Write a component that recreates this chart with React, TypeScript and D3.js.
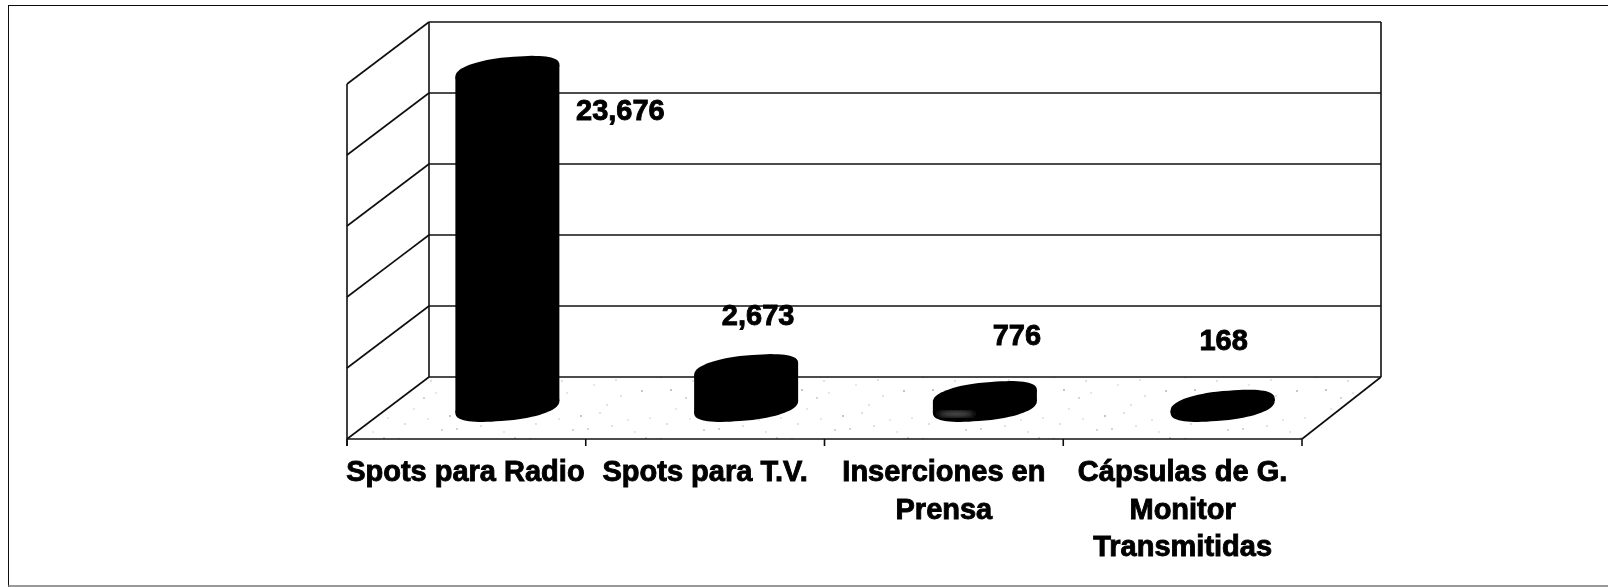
// Bar chart in fake 3D (scanned look): cylinders on a floor with a left wall
import React from 'react';
import * as d3 from 'd3';

const categories = ['Spots para Radio', 'Spots para T.V.', 'Inserciones en Prensa', 'Cápsulas de G. Monitor Transmitidas'];
const values = [23676, 2673, 776, 168];
const valueLabels = ['23,676', '2,673', '776', '168'];
const categoryLines = [['Spots para Radio'], ['Spots para T.V.'], ['Inserciones en', 'Prensa'], ['Cápsulas de G.', 'Monitor', 'Transmitidas']];
const yTicks = [0, 5000, 10000, 15000, 20000, 25000];

const W = 1608;
const H = 587;
const INK = '#111';
const FONT = '"Liberation Sans", Arial, sans-serif';

// front plane of the plot and the shift to the back wall
const frontLeft = 347;
const frontRight = 1302;
const frontBase = 439;
const depthX = 82;
const depthY = -62;
const backBase = frontBase + depthY;

const x = d3.scaleBand<string>().domain(categories).range([frontLeft, frontRight]);
const y = d3.scaleLinear().domain([0, 25000]).range([0, -355]);

// where each value label sits relative to the top of its bar
const labelDx = [113, 12, 32, 0];
const labelY = [120, 325, 345, 350];
const categoryDx = [-1, 0, 0, 0];

// irregular floor speckle, tile-relative
const speckX = [6, 21, 38, 31, 12, 43, 57, 70, 83, 64, 92, 104, 118, 111, 76, 49, 97, 126, 16, 35, 88, 122];
const speckY = [5, 37, 9, 26, 52, 21, 44, 13, 33, 57, 8, 48, 19, 60, 41, 58, 24, 46, 18, 47, 54, 4];

const RX = 52;
const RY = 13.5;
const SKEW = 6;
const POWER = 2 / 2.3; // slightly squarer than an ellipse, the shoulders are full
const ring = d3.range(0, 2 * Math.PI, Math.PI / 36);
const line = d3.line<[number, number]>().curve(d3.curveLinearClosed);
const spow = (v: number) => Math.sign(v) * Math.pow(Math.abs(v), POWER);

const ellipse = (cx: number, cy: number) =>
  line(ring.map((t) => [cx + RX * spow(Math.cos(t)), cy + RY * spow(Math.sin(t)) - SKEW * Math.cos(t)] as [number, number]));

const Cylinder = ({ cx, value }: { cx: number; value: number }) => {
  const base = (frontBase + backBase) / 2 - 1;
  const top = base + y(value);
  const side = line([
    [cx - RX, top + SKEW],
    [cx + RX, top - SKEW],
    [cx + RX, base - SKEW],
    [cx - RX, base + SKEW],
  ]);
  return (
    <g fill="#000">
      <path d={side || ''} />
      <path d={ellipse(cx, top) || ''} />
      <path d={ellipse(cx, base) || ''} />
    </g>
  );
};

const App = () => {
  const floor = line([
    [frontLeft, frontBase],
    [frontRight, frontBase],
    [frontRight + depthX, backBase],
    [frontLeft + depthX, backBase],
  ]);
  const xTicks = [...categories.map((c) => x(c) as number), frontRight];
  const backRight = frontRight + depthX - 3;

  return (
    <svg width={W} height={H} style={{ position: 'absolute', left: 0, top: 0, background: '#fff' }}>
      <defs>
        <pattern id="speckle" width="131" height="62" patternUnits="userSpaceOnUse">
          {speckX.map((sx, i) => (
            <circle key={i} cx={sx} cy={speckY[i]} r={i % 3 === 0 ? 0.9 : 0.7} fill={i % 2 === 0 ? '#aaa' : '#c0c0c0'} />
          ))}
        </pattern>
        <filter id="smudge">
          <feGaussianBlur stdDeviation="2.5" />
        </filter>
        <filter id="scan" x="0" y="0" width="100%" height="100%">
          <feGaussianBlur stdDeviation="0.5" />
        </filter>
      </defs>

      <g filter="url(#scan)">
        {/* scan frame */}
        <path d={`M${W},5H8V${H}`} fill="none" stroke={INK} strokeWidth={2} />
        <line x1={8} x2={W} y1={586} y2={586} stroke="#777" strokeWidth={1.4} />

        <path d={floor || ''} fill="url(#speckle)" />

        {/* gridlines on the back and left walls */}
        {yTicks.map((t) => (
          <g key={t} stroke={INK} strokeWidth={1.6}>
            <line x1={frontLeft} y1={frontBase + y(t)} x2={frontLeft + depthX} y2={backBase + y(t)} />
            <line x1={frontLeft + depthX} y1={backBase + y(t)} x2={backRight} y2={backBase + y(t)} />
          </g>
        ))}
        <g stroke={INK} strokeWidth={1.6}>
          <line x1={frontLeft} y1={frontBase + y(25000)} x2={frontLeft} y2={frontBase + 7} />
          <line x1={frontLeft + depthX} y1={backBase + y(25000)} x2={frontLeft + depthX} y2={backBase} />
          <line x1={backRight} y1={backBase + y(25000)} x2={backRight} y2={backBase} />
          <line x1={frontRight} y1={frontBase} x2={backRight} y2={backBase} />
          <line x1={frontLeft} y1={frontBase} x2={frontRight} y2={frontBase} />
          {xTicks.map((t) => (
            <line key={t} x1={t} x2={t} y1={frontBase} y2={frontBase + 7} />
          ))}
        </g>

        {categories.map((c, i) => (
          <Cylinder key={c} cx={(x(c) as number) + x.bandwidth() / 2 + depthX / 2 - (i === 3 ? 1 : 0)} value={values[i]} />
        ))}
        {/* pale patch on the third bar from the scan */}
        <ellipse cx={956} cy={414} rx={18} ry={3} fill="#555" filter="url(#smudge)" />

        <g fontFamily={FONT} fontWeight="bold" fontSize={29} fill="#000" stroke="#000" strokeWidth={0.9} textAnchor="middle">
          {valueLabels.map((v, i) => (
            <text key={v} x={(x(categories[i]) as number) + x.bandwidth() / 2 + depthX / 2 + labelDx[i]} y={labelY[i]}>
              {v}
            </text>
          ))}
          {categoryLines.map((lines, i) => (
            <text key={i} textAnchor="middle">
              {lines.map((l, j) => (
                <tspan key={l} x={(x(categories[i]) as number) + x.bandwidth() / 2 + categoryDx[i]} y={481 + j * 37.5}>
                  {l}
                </tspan>
              ))}
            </text>
          ))}
        </g>
      </g>
    </svg>
  );
};

export default App;
